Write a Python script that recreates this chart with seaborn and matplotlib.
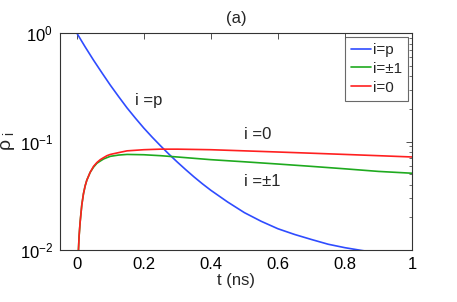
import numpy as np
import pandas as pd
import matplotlib
matplotlib.use("Agg")
import matplotlib.pyplot as plt
import seaborn as sns

# values
t_p = [0.0, 0.025, 0.05, 0.075, 0.1, 0.125, 0.15, 0.175, 0.2, 0.225, 0.25, 0.275,
       0.3, 0.325, 0.35, 0.375, 0.4, 0.45, 0.5, 0.55, 0.6, 0.65, 0.7, 0.75,
       0.8, 0.85, 0.9, 1.0]
rho_p = [1.0, 0.745, 0.562, 0.430, 0.331, 0.259, 0.204, 0.164, 0.133, 0.1096, 0.0912, 0.0764,
         0.0646, 0.0550, 0.0471, 0.0407, 0.0355, 0.0277, 0.0221, 0.0184, 0.0157, 0.0139, 0.0125, 0.0113,
         0.0105, 0.0099, 0.0094, 0.0085]

t_pm1 = [0.002, 0.004, 0.007, 0.01, 0.015, 0.02, 0.025, 0.03, 0.04, 0.05, 0.06, 0.07, 0.08,
         0.09, 0.1, 0.125, 0.15, 0.2, 0.25, 0.3, 0.4, 0.5, 0.6, 0.7, 0.8, 0.9, 1.0]
rho_pm1 = [0.004, 0.0085, 0.0135, 0.018, 0.026, 0.033, 0.039, 0.044, 0.052, 0.058, 0.063, 0.066, 0.069,
           0.071, 0.073, 0.075, 0.076, 0.0755, 0.074, 0.072, 0.068, 0.065, 0.062, 0.059, 0.056, 0.053, 0.051]

t_0 = [0.002, 0.004, 0.007, 0.01, 0.015, 0.02, 0.025, 0.03, 0.04, 0.05, 0.06, 0.07, 0.08,
       0.09, 0.1, 0.125, 0.15, 0.2, 0.25, 0.3, 0.4, 0.5, 0.6, 0.7, 0.8, 0.9, 1.0]
rho_0 = [0.004, 0.0085, 0.0135, 0.018, 0.026, 0.033, 0.039, 0.044, 0.052, 0.059, 0.064, 0.068, 0.071,
         0.074, 0.076, 0.079, 0.082, 0.084, 0.085, 0.085, 0.084, 0.082, 0.080, 0.078, 0.076, 0.074, 0.072]

labels = ["i=p", "i=\u00b11", "i=0"]
colors = ["#2f4cff", "#1faa1f", "#ff2020"]

sns.set_theme(style="white")
plt.rcParams["font.family"] = ["Liberation Sans", "DejaVu Sans"]
plt.rcParams["mathtext.fontset"] = "custom"
plt.rcParams["mathtext.rm"] = "Liberation Sans"

fig = plt.figure(figsize=(4.57, 3.02), dpi=100)
ax = fig.add_axes([60 / 457, 52 / 302, 352 / 457, 217 / 302])

for tt, rr, lab, col in zip([t_p, t_pm1, t_0], [rho_p, rho_pm1, rho_0], labels, colors):
    df = pd.DataFrame({"t": tt, "rho": rr})
    sns.lineplot(data=df, x="t", y="rho", ax=ax, color=col, linewidth=1.2, label=lab)

ax.set_yscale("log")
ax.set_xlim(-0.05, 1)
ax.set_ylim(1e-2, 1)
ax.set_xticks([0, 0.2, 0.4, 0.6, 0.8, 1])
ax.set_xticklabels(["0", "0.2", "0.4", "0.6", "0.8", "1"])

ax.tick_params(which="both", direction="in", top=True, right=True,
               labelsize=12, colors="#333333", labelcolor="black")
ax.tick_params(which="major", length=4, width=0.6, pad=5)
ax.tick_params(which="minor", length=2, width=0.5)
for s in ax.spines.values():
    s.set_color("#333333")
    s.set_linewidth(0.8)

ax.set_title("(a)", fontsize=12, pad=7)
ax.set_xlabel("t (ns)", fontsize=12, labelpad=1)
ax.set_ylabel(r"$\mathregular{\rho_{\ i}}$", fontsize=14, labelpad=2)

ax.text(0.175, 0.24, "i =p", fontsize=12, va="center")
ax.text(0.5, 0.115, "i =0", fontsize=12, va="center")
ax.text(0.5, 0.043, "i =\u00b11", fontsize=12, va="center")

leg = ax.legend(loc="upper right", fontsize=11, frameon=True, fancybox=False,
                borderaxespad=0.25, handlelength=1.3, handletextpad=0.15,
                labelspacing=0.32, borderpad=0.4)
leg.get_frame().set_edgecolor("#444444")
leg.get_frame().set_linewidth(0.8)

fig.savefig("out.png", dpi=100)
